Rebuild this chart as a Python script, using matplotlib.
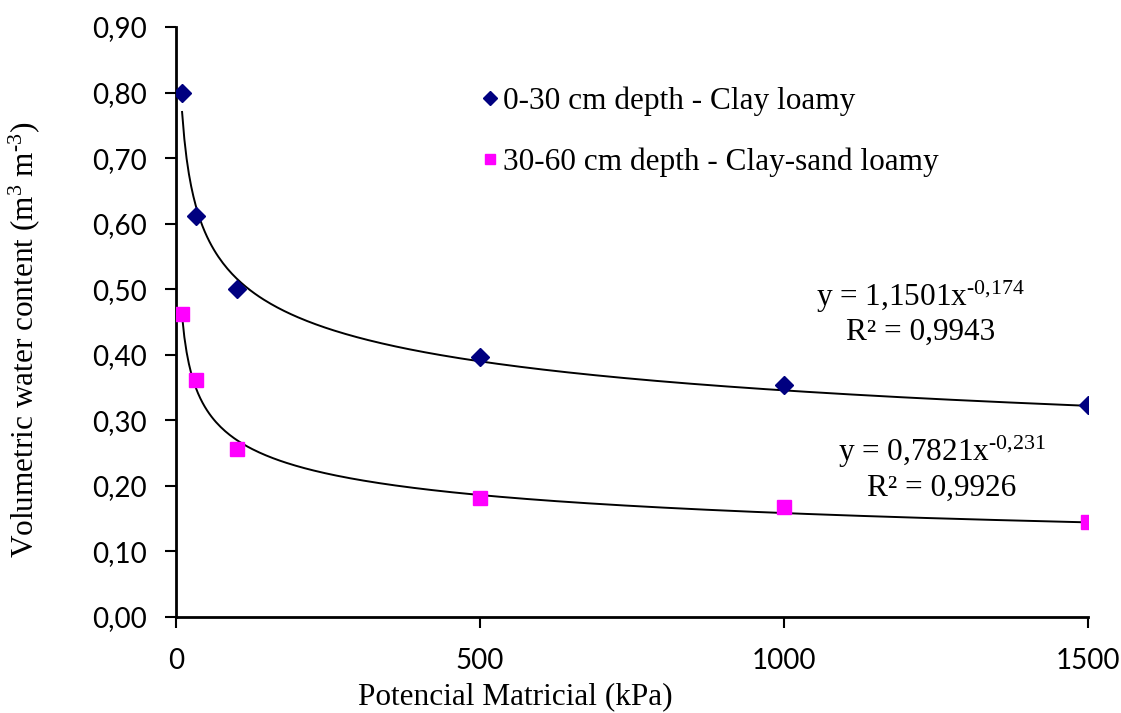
import numpy as np
import matplotlib.pyplot as plt

# data
pressure = [10, 33, 100, 500, 1000, 1500]
depth_0_30 = [0.80, 0.612, 0.500, 0.396, 0.354, 0.323]
depth_30_60 = [0.463, 0.362, 0.256, 0.182, 0.168, 0.145]

# power trendlines shown on the chart: y = a * x^b
fit_0_30 = (1.1501, -0.174)
fit_30_60 = (0.7821, -0.231)

serif = 'Liberation Serif'
sans = 'Lato'
plt.rcParams['mathtext.fontset'] = 'custom'
plt.rcParams['mathtext.rm'] = serif
plt.rcParams['mathtext.it'] = serif
plt.rcParams['mathtext.default'] = 'regular'

fig = plt.figure(figsize=(11.21, 7.13), dpi=100)
ax = fig.add_axes([0.157, 0.1346, 0.8136, 0.8275])

xs = np.linspace(10, 1500, 400)
ax.plot(xs, fit_0_30[0] * xs ** fit_0_30[1], color='black', lw=1.4, zorder=2)
ax.plot(xs, fit_30_60[0] * xs ** fit_30_60[1], color='black', lw=1.4, zorder=2)

ax.plot(pressure, depth_0_30, 'D', color='#000080', ms=9.5, ls='none',
        label='0-30 cm depth - Clay loamy', zorder=3)
ax.plot(pressure, depth_30_60, 's', color='#FF00FF', ms=10, ls='none',
        label='30-60 cm depth - Clay-sand loamy', zorder=3)

ax.set_xlim(0, 1500)
ax.set_ylim(0, 0.90)
ax.set_xticks([0, 500, 1000, 1500])
yt = np.arange(0, 0.91, 0.10)
ax.set_yticks(yt)
ax.set_yticklabels([f'{v:.2f}'.replace('.', ',') for v in yt])

for lab in ax.get_xticklabels() + ax.get_yticklabels():
    lab.set_fontfamily(sans)
    lab.set_fontsize(20)

ax.tick_params(axis='both', direction='out', length=8, width=1.5, color='black')
ax.tick_params(axis='x', pad=14)
ax.tick_params(axis='y', pad=13)

ax.spines['top'].set_visible(False)
ax.spines['right'].set_visible(False)
ax.spines['left'].set_linewidth(2)
ax.spines['bottom'].set_linewidth(2)

ax.set_xlabel('Potencial Matricial (kPa)', fontfamily=serif, fontsize=22.5, va='center')
ax.xaxis.set_label_coords(0.372, -0.135)
ax.set_ylabel(r'Volumetric water content (m$^{\text{3}}$ m$^{\text{-3}}$)',
              fontfamily=serif, fontsize=22.5, va='center')
ax.yaxis.set_label_coords(-0.167, 0.469)

leg = ax.legend(loc='upper left', bbox_to_anchor=(0.3, 0.947), frameon=False,
                prop={'family': serif, 'size': 22.5}, handletextpad=0.0,
                handlelength=0.8, labelspacing=1.0, markerscale=0.7)

ax.text(1224, 0.488, r'y = 1,1501x$^{\text{-0,174}}$', ha='center', va='center',
        fontfamily=serif, fontsize=22.5)
ax.text(1224, 0.4347, 'R² = 0,9943', ha='center', va='center', fontfamily=serif, fontsize=22.5)
ax.text(1260, 0.2517, r'y = 0,7821x$^{\text{-0,231}}$', ha='center', va='center',
        fontfamily=serif, fontsize=22.5)
ax.text(1260, 0.1968, 'R² = 0,9926', ha='center', va='center', fontfamily=serif, fontsize=22.5)

fig.savefig('out.png', dpi=100)
